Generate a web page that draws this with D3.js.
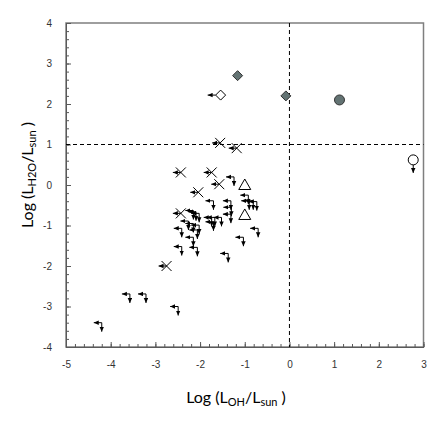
<!DOCTYPE html>
<html>
<head>
<meta charset="utf-8">
<script src="https://cdn.jsdelivr.net/npm/d3@7"></script>
<style>
  body { margin: 0; background: #fff; }
  svg { font-family: Lato, "Open Sans", sans-serif; }
  .tick text { fill: #333; font-size: 10px; }
</style>
</head>
<body>
<svg id="chart" width="436" height="425"></svg>
<script>
// values (log L_OH, log L_H2O)
const filledDiamonds = [[-1.16, 2.70], [-0.08, 2.20]];
const openDiamondLimits = [[-1.54, 2.22]];
const filledCircles = [[1.12, 2.10]];
const openCircleLimits = [[2.77, 0.62]];
const triangles = [[-1.0, 0.0], [-1.0, -0.74]];
const crossLimits = [
  [-1.55, 1.04], [-1.18, 0.91], [-2.43, 0.31], [-1.74, 0.31],
  [-1.57, 0.02], [-2.04, -0.18], [-2.43, -0.70], [-2.75, -2.0]
];
const upperLimits = [
  [-1.24, 0.20], [-1.70, -0.39], [-1.31, -0.39], [-1.30, -0.55],
  [-0.92, -0.25], [-0.90, -0.39], [-0.81, -0.39], [-0.73, -0.41],
  [-2.15, -0.63], [-2.09, -0.66], [-2.02, -0.70], [-2.26, -0.89],
  [-2.15, -0.95], [-2.02, -0.99], [-1.74, -0.80], [-1.67, -0.80],
  [-1.52, -0.80], [-1.31, -0.72], [-1.70, -0.91], [-2.41, -1.07],
  [-2.06, -1.11], [-0.70, -1.07], [-2.15, -1.29], [-1.03, -1.29],
  [-2.41, -1.52], [-2.06, -1.54], [-1.37, -1.69],
  [-3.57, -2.69], [-3.21, -2.69], [-2.49, -3.0], [-4.20, -3.40]
];
const xMajor = d3.range(-5, 4, 1);
const yMajor = d3.range(-4, 5, 1);
const xMinor = d3.range(-5, 3.001, 0.2);
const yMinor = d3.range(-4, 4.001, 0.2);

const svg = d3.select("#chart");
const x = d3.scaleLinear().domain([-5, 3]).range([66, 423.5]);
const y = d3.scaleLinear().domain([-4, 4]).range([347, 23]);

// arrowhead
svg.append("defs").append("marker")
  .attr("id", "arrow")
  .attr("viewBox", "0 0 10 10")
  .attr("refX", 10).attr("refY", 5)
  .attr("markerWidth", 5).attr("markerHeight", 5)
  .attr("markerUnits", "userSpaceOnUse")
  .attr("orient", "auto")
  .append("path")
  .attr("d", "M0,0.5L10,5L0,9.5Z")
  .attr("fill", "#000");

// frame
svg.append("rect")
  .attr("x", x(-5)).attr("y", y(4))
  .attr("width", x(3) - x(-5)).attr("height", y(-4) - y(4))
  .attr("fill", "none").attr("stroke", "#7f7f7f").attr("stroke-width", 1.5);

// axes: minor then major, ticks pointing inward
const gx = svg.append("g").attr("transform", `translate(0,${y(-4)})`);
gx.append("g").call(d3.axisBottom(x).tickValues(xMinor).tickSize(-3).tickSizeOuter(0).tickFormat(""));
gx.append("g").call(d3.axisBottom(x).tickValues(xMajor).tickSize(-5).tickSizeOuter(0).tickPadding(14)
  .tickFormat(d3.format("d")));
const gy = svg.append("g").attr("transform", `translate(${x(-5)},0)`);
gy.append("g").call(d3.axisLeft(y).tickValues(yMinor).tickSize(-3).tickSizeOuter(0).tickFormat(""));
gy.append("g").call(d3.axisLeft(y).tickValues(yMajor).tickSize(-5).tickSizeOuter(0).tickPadding(14)
  .tickFormat(d3.format("d")));
svg.selectAll(".domain").attr("stroke", "#595959");
svg.selectAll(".tick line").attr("stroke", "#595959");
svg.selectAll(".tick text").text(function () { return this.textContent.replace("−", "-"); });

// dashed reference lines
svg.append("line")
  .attr("x1", x(0)).attr("x2", x(0)).attr("y1", y(4)).attr("y2", y(-4))
  .attr("stroke", "#000").attr("stroke-dasharray", "4,3");
svg.append("line")
  .attr("x1", x(-5)).attr("x2", x(3)).attr("y1", y(1)).attr("y2", y(1))
  .attr("stroke", "#000").attr("stroke-dasharray", "4,3");

const marks = svg.append("g");
function arrow(x1, y1, x2, y2) {
  marks.append("line")
    .attr("x1", x1).attr("y1", y1).attr("x2", x2).attr("y2", y2)
    .attr("stroke", "#000").attr("stroke-width", 1)
    .attr("marker-end", "url(#arrow)");
}

// upper limits in both quantities
upperLimits.forEach((d) => {
  const px = x(d[0]), py = y(d[1]);
  arrow(px, py, px - 8, py);
  arrow(px, py, px, py + 9);
});

// crosses with left arrow
crossLimits.forEach((d) => {
  const px = x(d[0]), py = y(d[1]);
  marks.append("path")
    .attr("d", `M${px - 5},${py - 5}L${px + 5},${py + 5}M${px - 5},${py + 5}L${px + 5},${py - 5}`)
    .attr("stroke", "#000").attr("fill", "none");
  arrow(px, py, px - 8, py);
});

// triangles
marks.selectAll(".tri").data(triangles).enter().append("path")
  .attr("d", (d) => `M${x(d[0])},${y(d[1]) - 6}L${x(d[0]) + 6},${y(d[1]) + 4.5}L${x(d[0]) - 6},${y(d[1]) + 4.5}Z`)
  .attr("fill", "#fff").attr("stroke", "#000");

// diamonds
const diamond = (px, py) => `M${px},${py - 5}L${px + 5},${py}L${px},${py + 5}L${px - 5},${py}Z`;
marks.selectAll(".fd").data(filledDiamonds).enter().append("path")
  .attr("d", (d) => diamond(x(d[0]), y(d[1])))
  .attr("fill", "#637373").attr("stroke", "#333");
openDiamondLimits.forEach((d) => {
  arrow(x(d[0]) - 5, y(d[1]), x(d[0]) - 13, y(d[1]));
  marks.append("path").attr("d", diamond(x(d[0]), y(d[1])))
    .attr("fill", "#fff").attr("stroke", "#000");
});

// circles
marks.selectAll(".fc").data(filledCircles).enter().append("circle")
  .attr("cx", (d) => x(d[0])).attr("cy", (d) => y(d[1])).attr("r", 5)
  .attr("fill", "#637373").attr("stroke", "#333");
openCircleLimits.forEach((d) => {
  arrow(x(d[0]), y(d[1]) + 5, x(d[0]), y(d[1]) + 13);
  marks.append("circle").attr("cx", x(d[0])).attr("cy", y(d[1])).attr("r", 5)
    .attr("fill", "#fff").attr("stroke", "#000");
});

// axis titles
function title(el, sub) {
  el.append("tspan").text("Log (L");
  el.append("tspan").attr("font-size", 11).attr("dy", 3).text(sub);
  el.append("tspan").attr("dy", -3).text("/L");
  el.append("tspan").attr("font-size", 11).attr("dy", 3).text("sun");
  el.append("tspan").attr("dy", -3).text(" )");
}
title(svg.append("text")
  .attr("x", 236).attr("y", 403).attr("text-anchor", "middle")
  .attr("font-size", 16).attr("fill", "#000"), "OH");

title(svg.append("text")
  .attr("transform", "translate(33,175) rotate(-90)")
  .attr("text-anchor", "middle")
  .attr("font-size", 16).attr("fill", "#000"), "H2O");
</script>
</body>
</html>
